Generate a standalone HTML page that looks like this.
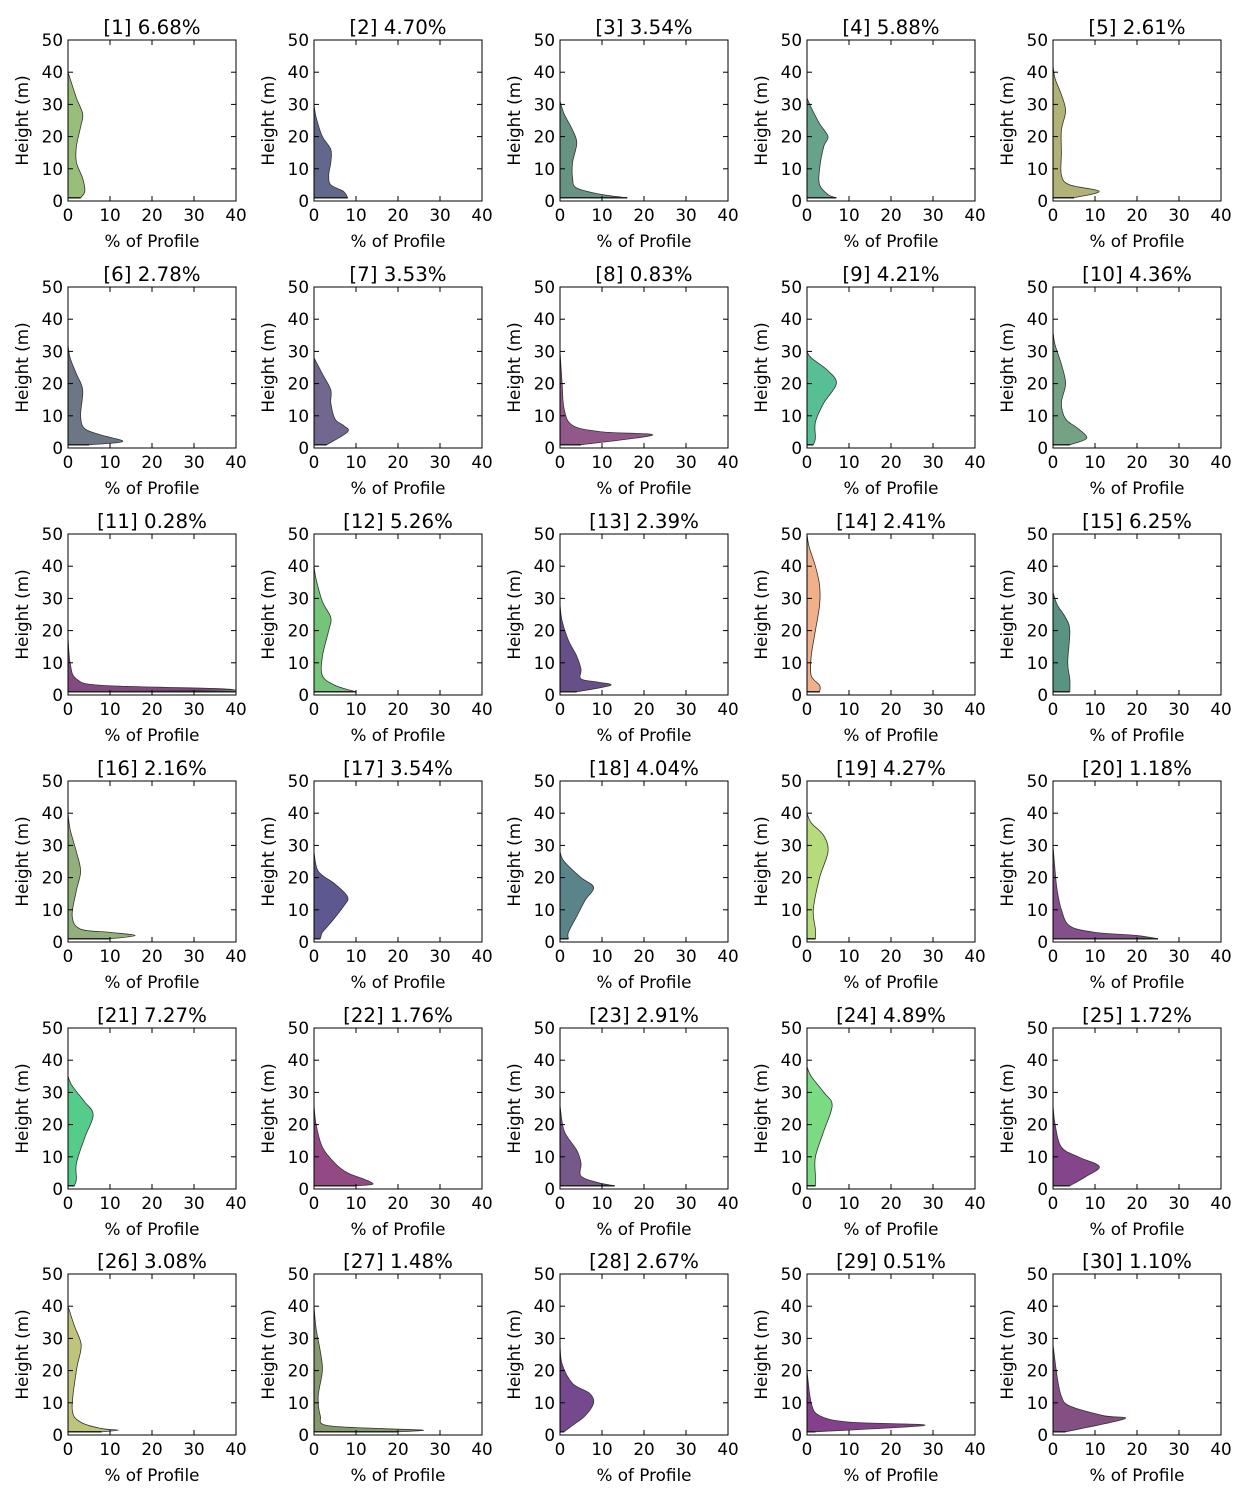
<!DOCTYPE html>
<html><head><meta charset="utf-8"><style>
html,body{margin:0;padding:0;background:#fff}
svg text{font-family:"DejaVu Sans","Liberation Sans",sans-serif;fill:#000}
</style></head><body>
<svg id="s" width="1250" height="1500" xmlns="http://www.w3.org/2000/svg"></svg>
<script>
const P=[
["6.68","#8fb86f",[[3,1],[4,3],[3.5,7],[2,12],[2,17],[3,23],[3.5,27],[2,32],[0.5,38],[0,40]]],
["4.70","#555a82",[[8,1],[7,3],[4,5],[3.5,8],[4,12],[4,16],[2,20],[0.5,26],[0,30]]],
["3.54","#5a8a78",[[16,1],[10,2],[4,4],[3,7],[3,12],[4,18],[3,22],[1,27],[0,31]]],
["5.88","#5a9a80",[[7,1],[5,2],[3,5],[3,10],[4,17],[5,20],[3,24],[1,29],[0,32]]],
["2.61","#a9ab6a",[[5,1],[11,3],[4,5],[2,8],[2,15],[2,22],[3,28],[2,33],[0.5,38],[0,42]]],
["2.78","#5f6a7a",[[5,1],[13,2],[8,4],[4,6],[3,10],[3.5,18],[2,23],[0.5,28],[0,32]]],
["3.53","#655a85",[[3,1],[8,5],[7,7],[5,9],[4,14],[4,18],[2,23],[0,28]]],
["0.83","#8a4a80",[[5,1],[22,4],[10,5],[3,7],[1,12],[0.5,20],[0,30]]],
["4.21","#4ab88a",[[1.5,1],[2,3],[2,8],[4,14],[7,20],[5,24],[1,28],[0,30]]],
["4.36","#6a9a7a",[[4,1],[8,3],[6,6],[3,9],[2,14],[3,20],[2,26],[0.5,32],[0,36]]],
["0.28","#7a3a78",[[40,1.5],[35,2],[8,3],[2,5],[0.5,10],[0,18]]],
["5.26","#6abf70",[[10,1],[5,3],[2,6],[2,12],[3.5,20],[4,24],[2,29],[0.5,36],[0,40]]],
["2.39","#5a4080",[[4,1],[12,3],[9,4],[5,5],[5,8],[4,12],[2,17],[0.5,23],[0,28]]],
["2.41","#f0a880",[[3,1],[3,3],[1,6],[1,12],[2,20],[3,28],[3,34],[2,40],[0.5,46],[0,50]]],
["6.25","#4a8a78",[[4,1],[4,5],[3.5,10],[4,20],[3,24],[1,28],[0,32]]],
["2.16","#8aa870",[[10,1],[16,2],[10,3],[3,4],[1,8],[2,16],[3,22],[2,28],[0.5,35],[0,40]]],
["3.54","#4f4a85",[[1.5,1],[2,3],[4,6],[7,11],[8,14],[5,18],[1,22],[0,28]]],
["4.04","#4a7a80",[[2,1],[2,3],[4,8],[6,13],[8,17],[5,20],[1,25],[0,28]]],
["4.27","#b0d870",[[2,1],[2,4],[1.5,10],[3,20],[5,28],[4,33],[1,37],[0,40]]],
["1.18","#7a4080",[[25,1],[20,2],[10,3],[4,5],[2,10],[1,16],[0.5,22],[0,30]]],
["7.27","#48c880",[[1.5,1],[2,3],[2,8],[4,16],[6,23],[4,27],[1,32],[0,35]]],
["1.76","#8a3a78",[[10,1],[14,1.5],[12,3],[8,5],[5,8],[2,13],[0.5,20],[0,26]]],
["2.91","#6a4a80",[[13,1],[9,2],[5,4],[5,8],[4,12],[1,18],[0,26]]],
["4.89","#70d878",[[2,1],[2,4],[2,10],[4,18],[6,26],[4,30],[1,35],[0,38]]],
["1.72","#7a3580",[[4,1],[8,4],[11,7],[6,10],[2,13],[0.5,20],[0,26]]],
["3.08","#b8c070",[[8,1],[12,1.5],[8,2],[3,4],[1,8],[2,20],[3,26],[3,29],[1.5,34],[0,40]]],
["1.48","#7a9060",[[20,1],[26,1.5],[16,2],[3,3],[1.5,6],[1,12],[2,20],[1.5,26],[0.5,33],[0,40]]],
["2.67","#6a3a85",[[1,1],[3,3],[6,6],[8,10],[7,13],[3,16],[0.5,22],[0,28]]],
["0.51","#7a3080",[[2,1],[28,3],[10,4],[3,6],[1,10],[0,20]]],
["1.10","#7a4078",[[3,1],[17,5],[12,6],[4,9],[2,12],[1,18],[0,28]]]
];
const X0=[68,314,560,807,1053],Y0=[40,287,534,781,1028,1274],W=168,H=161;
let o='';
P.forEach((p,i)=>{
 const c=i%5,r=Math.floor(i/5),x0=X0[c],y0=Y0[r];
 const sx=v=>x0+v*W/40, sy=v=>y0+H-v*H/50;
 const pts=p[2].map(q=>[sx(q[0]),sy(q[1])]);
 let d=`M${sx(0)},${sy(1)} L${pts[0][0]},${pts[0][1]}`;
 for(let k=0;k<pts.length-1;k++){
  const a=pts[k-1]||pts[k],b=pts[k],e=pts[k+1],f=pts[k+2]||e;
  const c1=[b[0]+(e[0]-a[0])/6,b[1]+(e[1]-a[1])/6],c2=[e[0]-(f[0]-b[0])/6,e[1]-(f[1]-b[1])/6];
  d+=` C${c1[0]},${c1[1]} ${c2[0]},${c2[1]} ${e[0]},${e[1]}`;
 }
 d+=' Z';
 o+=`<path d="${d}" fill="${p[1]}" fill-opacity="0.92" stroke="#333" stroke-width="0.8"/>`;
 o+=`<line x1="${sx(0)}" y1="${sy(1)}" x2="${pts[0][0]}" y2="${sy(1)}" stroke="#222" stroke-width="1.5"/>`;
 o+=`<rect x="${x0}" y="${y0}" width="${W}" height="${H}" fill="none" stroke="#000" stroke-width="1"/>`;
 for(let t=0;t<=40;t+=10){const x=sx(t);
  o+=`<line x1="${x}" y1="${y0+H}" x2="${x}" y2="${y0+H-5}" stroke="#000"/><line x1="${x}" y1="${y0}" x2="${x}" y2="${y0+5}" stroke="#000"/>`;
  o+=`<text x="${x}" y="${y0+H+20}" font-size="16.8" text-anchor="middle">${t}</text>`;}
 for(let t=0;t<=50;t+=10){const y=sy(t);
  o+=`<line x1="${x0}" y1="${y}" x2="${x0+5}" y2="${y}" stroke="#000"/><line x1="${x0+W}" y1="${y}" x2="${x0+W-5}" y2="${y}" stroke="#000"/>`;
  o+=`<text x="${x0-5}" y="${y+6}" font-size="16.8" text-anchor="end">${t}</text>`;}
 o+=`<text x="${x0+W/2}" y="${y0+H+46}" font-size="16.8" text-anchor="middle">% of Profile</text>`;
 o+=`<text transform="translate(${x0-40},${y0+H/2}) rotate(-90)" font-size="16.8" text-anchor="middle">Height (m)</text>`;
 o+=`<text x="${x0+W/2}" y="${y0-6}" font-size="19.8" text-anchor="middle">[${i+1}] ${p[0]}%</text>`;
});
document.getElementById('s').innerHTML=o;
</script>
</body></html>
